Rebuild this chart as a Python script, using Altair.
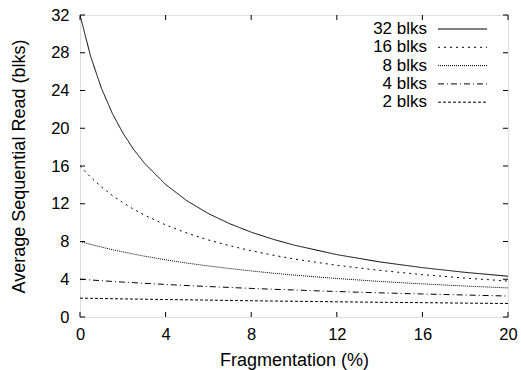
import altair as alt
import pandas as pd

frag = [0, 0.5, 1, 1.5, 2, 2.5, 3, 4, 5, 6, 7, 8, 9, 10, 12, 14, 16, 18, 20]
blk32 = [32, 27.59, 24.24, 21.62, 19.51, 17.78, 16.33, 14.04, 12.31, 10.96, 9.88, 8.99, 8.25, 7.62, 6.61, 5.84, 5.23, 4.73, 4.32]
blk16 = [16, 14.81, 13.79, 12.90, 12.12, 11.43, 10.81, 9.76, 8.89, 8.16, 7.55, 7.02, 6.56, 6.15, 5.48, 4.94, 4.49, 4.12, 3.81]
blk8 = [8, 7.69, 7.41, 7.14, 6.90, 6.67, 6.45, 6.06, 5.71, 5.41, 5.13, 4.88, 4.65, 4.44, 4.08, 3.77, 3.51, 3.28, 3.08]
blk4 = [4, 3.92, 3.85, 3.77, 3.70, 3.64, 3.57, 3.45, 3.33, 3.23, 3.13, 3.03, 2.94, 2.86, 2.70, 2.56, 2.44, 2.33, 2.22]
blk2 = [2, 1.98, 1.96, 1.94, 1.92, 1.90, 1.89, 1.85, 1.82, 1.79, 1.75, 1.72, 1.69, 1.67, 1.61, 1.56, 1.52, 1.47, 1.43]

series_names = ["32 blks", "16 blks", "8 blks", "4 blks", "2 blks"]
series_values = [blk32, blk16, blk8, blk4, blk2]
dashes = [[1, 0], [2, 4], [1, 1], [6, 3, 1, 3], [3, 2]]

x_ticks = [0, 4, 8, 12, 16, 20]
y_ticks = [0, 4, 8, 12, 16, 20, 24, 28, 32]

rows = []
for name, vals in zip(series_names, series_values):
    for f, v in zip(frag, vals):
        rows.append({"frag": f, "value": v, "series": name})
df = pd.DataFrame(rows)
legend_df = pd.DataFrame({"series": series_names})

FONT = "Liberation Sans"
W, H = 428, 302

xscale = alt.Scale(domain=[0, 20], nice=False)
yscale = alt.Scale(domain=[0, 32], nice=False)
dash_scale = alt.Scale(domain=series_names, range=dashes)

xaxis = alt.Axis(values=x_ticks, title="Fragmentation (%)", ticks=False, domain=False,
                 grid=False, labelPadding=9, labelFontSize=16.5, titleFontSize=18,
                 titleFontWeight="normal", titlePadding=9, labelFont=FONT, titleFont=FONT,
                 labelColor="black", titleColor="black", labelOverlap=False, labelFlush=False)
yaxis = alt.Axis(values=y_ticks, title="Average Sequential Read (blks)", ticks=False,
                 domain=False, grid=False, labelPadding=11, labelFontSize=16.5,
                 titleFontSize=18, titleFontWeight="normal", titlePadding=22,
                 labelFont=FONT, titleFont=FONT, labelColor="black", titleColor="black",
                 labelOverlap=False, labelFlush=False)

lines = alt.Chart(df).mark_line(color="black", strokeWidth=1, clip=True).encode(
    x=alt.X("frag:Q", scale=xscale, axis=xaxis),
    y=alt.Y("value:Q", scale=yscale, axis=yaxis),
    strokeDash=alt.StrokeDash("series:N", scale=dash_scale, legend=None),
    detail="series:N",
)

xt = pd.DataFrame({"t": x_ticks})
yt = pd.DataFrame({"t": y_ticks})

bottom_ticks = alt.Chart(xt).mark_rule(color="black", strokeWidth=1).encode(
    x=alt.X("t:Q", scale=xscale, axis=xaxis), y=alt.value(H), y2=alt.value(H - 5))
top_ticks = alt.Chart(xt).mark_rule(color="black", strokeWidth=1).encode(
    x=alt.X("t:Q", scale=xscale, axis=xaxis), y=alt.value(0), y2=alt.value(5))
left_ticks = alt.Chart(yt).mark_rule(color="black", strokeWidth=1).encode(
    y=alt.Y("t:Q", scale=yscale, axis=yaxis), x=alt.value(0), x2=alt.value(5))
right_ticks = alt.Chart(yt).mark_rule(color="black", strokeWidth=1).encode(
    y=alt.Y("t:Q", scale=yscale, axis=yaxis), x=alt.value(W), x2=alt.value(W - 5))

main = alt.layer(lines, bottom_ticks, top_ticks, left_ticks, right_ticks)

leg_y = alt.Y("series:N", axis=None,
              scale=alt.Scale(type="point", domain=series_names, range=[14, 87.2], padding=0))
leg_text = alt.Chart(legend_df).mark_text(align="right", baseline="middle", font=FONT,
                                          fontSize=17, color="black").encode(
    x=alt.value(347), y=leg_y, text="series:N")
leg_line = alt.Chart(legend_df).mark_rule(color="black", strokeWidth=1).encode(
    x=alt.value(358), x2=alt.value(407), y=leg_y,
    strokeDash=alt.StrokeDash("series:N", scale=dash_scale, legend=None))
leg = alt.layer(leg_text, leg_line)

chart = alt.layer(main, leg).resolve_scale(y="independent").properties(
    width=W, height=H,
    autosize=alt.AutoSizeParams(type="none"),
    padding={"left": 80, "top": 15, "right": 13, "bottom": 53},
).configure_view(stroke="black", strokeWidth=1).configure(background="white")

chart.save("out.html", embed_options={"renderer": "svg", "actions": False})
